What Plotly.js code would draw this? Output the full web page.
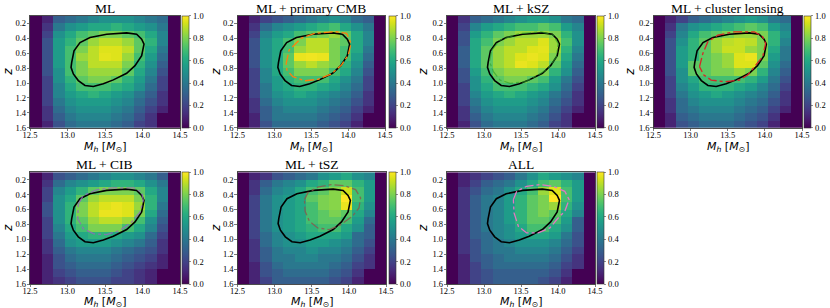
<!DOCTYPE html>
<html><head><meta charset="utf-8">
<script src="https://cdn.plot.ly/plotly-3.0.1.min.js"></script>
<style>html,body{margin:0;padding:0;background:#fff}#plot{width:830px;height:308px}</style>
</head><body><div id="plot"></div>
<script>
// ---- bin edges ----
const massEdges = [12.5,12.654,12.808,12.962,13.115,13.269,13.423,13.577,13.731,13.885,14.038,14.192,14.346,14.5];
const zEdges = [0.1,0.2,0.3,0.4,0.5,0.6,0.7,0.8,0.9,1.0,1.1,1.2,1.3,1.4,1.5,1.6];
const massTicks = [12.5,13.0,13.5,14.0,14.5];
const massTickText = ["12.5","13.0","13.5","14.0","14.5"];
const zTicks = [0.2,0.4,0.6,0.8,1.0,1.2,1.4,1.6];
const zTickText = ["0.2","0.4","0.6","0.8","1.0","1.2","1.4","1.6"];
const cbTicks = [0,0.2,0.4,0.6,0.8,1.0];
const cbTickText = ["0.0","0.2","0.4","0.6","0.8","1.0"];

// ---- panel titles ----
const panelTitles = ["ML","ML + primary CMB","ML + kSZ","ML + cluster lensing","ML + CIB","ML + tSZ","ALL"];
const xTitle = '<i>M</i><sub><i>h</i></sub> [<i>M</i><sub>⊙</sub>]';
const yTitle = '<i>z</i>';

// ---- heatmap values (rows: z from 0.1 downwards, cols: mass bins) ----
const zML = [
[0,0.10,0.30,0.35,0.40,0.45,0.50,0.50,0.50,0.45,0.40,0.35,0],
[0,0.15,0.40,0.50,0.55,0.60,0.60,0.65,0.60,0.55,0.50,0.40,0],
[0,0.20,0.50,0.60,0.70,0.75,0.80,0.80,0.75,0.70,0.60,0.45,0],
[0,0.25,0.55,0.65,0.75,0.85,0.90,0.90,0.85,0.75,0.65,0.45,0],
[0,0.25,0.55,0.70,0.80,0.90,0.95,0.95,0.90,0.75,0.60,0.40,0],
[0,0.25,0.55,0.70,0.85,0.90,0.96,0.95,0.85,0.70,0.55,0.35,0],
[0,0.25,0.55,0.70,0.80,0.90,0.90,0.90,0.80,0.65,0.50,0.30,0],
[0,0.25,0.50,0.70,0.80,0.85,0.85,0.85,0.75,0.60,0.45,0.25,0],
[0,0.20,0.50,0.65,0.75,0.80,0.80,0.75,0.65,0.55,0.40,0.20,0],
[0,0.20,0.45,0.60,0.70,0.70,0.70,0.65,0.60,0.50,0.35,0.20,0],
[0,0.20,0.45,0.55,0.60,0.65,0.60,0.55,0.50,0.40,0.30,0.15,0],
[0,0.20,0.40,0.50,0.55,0.55,0.55,0.50,0.45,0.35,0.25,0.15,0],
[0,0.15,0.35,0.45,0.50,0.50,0.50,0.45,0.40,0.30,0.20,0.10,0],
[0,0.15,0.30,0.40,0.45,0.45,0.45,0.40,0.35,0.25,0.15,0,0],
[0,0.10,0.25,0.35,0.40,0.40,0.40,0.35,0.30,0.20,0.15,0,0]];
const zCMB = [
[0,0.10,0.20,0.25,0.30,0.35,0.40,0.45,0.50,0.45,0.35,0.30,0],
[0,0.15,0.35,0.45,0.50,0.55,0.60,0.65,0.70,0.60,0.50,0.40,0],
[0,0.20,0.45,0.55,0.60,0.70,0.75,0.80,0.85,0.75,0.60,0.45,0],
[0,0.25,0.50,0.60,0.70,0.80,0.90,0.90,0.80,0.75,0.60,0.45,0],
[0,0.25,0.50,0.60,0.70,0.85,0.90,0.90,0.80,0.70,0.60,0.40,0],
[0,0.25,0.50,0.60,0.75,0.97,0.98,0.97,0.80,0.70,0.55,0.35,0],
[0,0.25,0.50,0.60,0.75,0.85,0.90,0.85,0.80,0.65,0.50,0.30,0],
[0,0.20,0.45,0.60,0.70,0.80,0.80,0.80,0.70,0.60,0.45,0.25,0],
[0,0.20,0.45,0.55,0.65,0.70,0.70,0.70,0.60,0.50,0.40,0.20,0],
[0,0.20,0.40,0.55,0.60,0.65,0.65,0.60,0.55,0.45,0.35,0.20,0],
[0,0.20,0.40,0.50,0.55,0.60,0.55,0.50,0.45,0.40,0.30,0.15,0],
[0,0.15,0.35,0.45,0.50,0.50,0.50,0.45,0.40,0.35,0.25,0.15,0],
[0,0.15,0.30,0.40,0.45,0.45,0.45,0.40,0.35,0.30,0.20,0.10,0],
[0,0.10,0.30,0.40,0.40,0.40,0.40,0.35,0.30,0.25,0.15,0,0],
[0,0.10,0.25,0.35,0.35,0.35,0.35,0.30,0.25,0.20,0.10,0,0]];
const zKSZ = [
[0,0.15,0.30,0.35,0.40,0.45,0.50,0.55,0.55,0.50,0.40,0.35,0],
[0,0.20,0.45,0.55,0.60,0.65,0.70,0.70,0.75,0.70,0.55,0.45,0],
[0,0.25,0.55,0.65,0.75,0.80,0.85,0.85,0.85,0.80,0.65,0.50,0],
[0,0.25,0.60,0.70,0.80,0.85,0.90,0.90,0.95,0.85,0.70,0.50,0],
[0,0.30,0.60,0.75,0.85,0.90,0.90,0.95,0.96,0.85,0.65,0.45,0],
[0,0.30,0.60,0.75,0.85,0.90,0.95,0.97,0.95,0.80,0.60,0.40,0],
[0,0.30,0.60,0.75,0.85,0.90,0.97,0.95,0.90,0.75,0.55,0.35,0],
[0,0.25,0.55,0.70,0.80,0.85,0.85,0.85,0.80,0.65,0.50,0.30,0],
[0,0.25,0.50,0.65,0.75,0.80,0.80,0.75,0.70,0.55,0.40,0.25,0],
[0,0.20,0.50,0.60,0.70,0.70,0.70,0.65,0.60,0.50,0.35,0.20,0],
[0,0.20,0.45,0.55,0.60,0.65,0.60,0.55,0.50,0.40,0.30,0.15,0],
[0,0.20,0.40,0.50,0.55,0.55,0.55,0.50,0.45,0.35,0.25,0.15,0],
[0,0.15,0.35,0.45,0.50,0.50,0.50,0.45,0.40,0.30,0.20,0.10,0],
[0,0.15,0.30,0.40,0.45,0.45,0.45,0.40,0.35,0.25,0.15,0,0],
[0,0.10,0.25,0.35,0.40,0.40,0.40,0.35,0.30,0.20,0.15,0,0]];
const zLens = [
[0,0.10,0.20,0.30,0.35,0.40,0.45,0.50,0.55,0.50,0.40,0.35,0],
[0,0.15,0.40,0.50,0.55,0.60,0.65,0.70,0.75,0.70,0.55,0.45,0],
[0,0.20,0.45,0.60,0.70,0.75,0.80,0.85,0.85,0.80,0.65,0.50,0],
[0,0.25,0.50,0.65,0.75,0.85,0.90,0.92,0.90,0.80,0.65,0.45,0],
[0,0.25,0.55,0.65,0.75,0.85,0.92,0.92,0.85,0.80,0.60,0.40,0],
[0,0.25,0.55,0.65,0.75,0.80,0.85,0.95,0.97,0.80,0.55,0.40,0],
[0,0.25,0.55,0.75,0.75,0.80,0.85,0.95,0.95,0.75,0.50,0.35,0],
[0,0.25,0.50,0.75,0.75,0.80,0.80,0.85,0.80,0.65,0.45,0.30,0],
[0,0.20,0.50,0.60,0.70,0.70,0.70,0.70,0.65,0.55,0.40,0.25,0],
[0,0.20,0.45,0.55,0.65,0.65,0.65,0.60,0.55,0.45,0.35,0.20,0],
[0,0.20,0.40,0.50,0.55,0.60,0.55,0.50,0.45,0.40,0.30,0.15,0],
[0,0.15,0.35,0.45,0.50,0.50,0.50,0.45,0.40,0.35,0.25,0.15,0],
[0,0.15,0.35,0.40,0.45,0.45,0.45,0.40,0.35,0.30,0.20,0.10,0],
[0,0.10,0.30,0.35,0.40,0.40,0.40,0.35,0.30,0.25,0.15,0,0],
[0,0.10,0.25,0.30,0.35,0.35,0.35,0.30,0.25,0.20,0.10,0,0]];
const zCIB = [
[0,0.10,0.25,0.30,0.35,0.40,0.45,0.50,0.50,0.45,0.40,0.30,0],
[0,0.15,0.35,0.45,0.50,0.55,0.60,0.65,0.65,0.60,0.50,0.40,0],
[0,0.20,0.45,0.55,0.65,0.75,0.80,0.80,0.80,0.75,0.60,0.45,0],
[0,0.20,0.50,0.60,0.75,0.85,0.90,0.90,0.90,0.80,0.65,0.45,0],
[0,0.25,0.50,0.65,0.80,0.90,0.95,0.97,0.95,0.85,0.65,0.40,0],
[0,0.25,0.50,0.65,0.80,0.90,0.97,0.97,0.95,0.80,0.60,0.35,0],
[0,0.20,0.50,0.65,0.75,0.85,0.90,0.90,0.85,0.70,0.50,0.30,0],
[0,0.20,0.45,0.60,0.70,0.80,0.80,0.80,0.70,0.60,0.45,0.25,0],
[0,0.20,0.40,0.55,0.60,0.65,0.65,0.60,0.55,0.50,0.35,0.20,0],
[0,0.15,0.35,0.50,0.55,0.55,0.55,0.50,0.45,0.40,0.30,0.15,0],
[0,0.15,0.30,0.40,0.45,0.45,0.45,0.40,0.35,0.30,0.25,0.15,0],
[0,0.10,0.25,0.35,0.40,0.40,0.40,0.35,0.30,0.25,0.20,0.10,0],
[0,0.10,0.25,0.30,0.35,0.35,0.35,0.30,0.25,0.20,0.15,0.10,0],
[0,0.10,0.20,0.25,0.30,0.30,0.30,0.25,0.20,0.15,0.10,0,0],
[0,0.10,0.15,0.20,0.25,0.25,0.25,0.20,0.20,0.15,0.10,0,0]];
const zTSZ = [
[0,0.10,0.15,0.25,0.30,0.35,0.40,0.50,0.55,0.60,0.50,0.45,0],
[0,0.15,0.30,0.40,0.45,0.50,0.60,0.65,0.75,0.75,0.65,0.55,0],
[0,0.15,0.35,0.45,0.50,0.60,0.70,0.75,0.82,0.93,0.70,0.55,0],
[0,0.20,0.40,0.50,0.55,0.60,0.75,0.80,0.82,1.00,0.70,0.55,0],
[0,0.20,0.40,0.50,0.55,0.60,0.70,0.80,0.82,0.97,0.65,0.50,0],
[0,0.20,0.40,0.50,0.55,0.60,0.70,0.75,0.80,0.75,0.60,0.45,0],
[0,0.20,0.40,0.50,0.55,0.60,0.70,0.75,0.75,0.70,0.55,0.35,0],
[0,0.20,0.40,0.50,0.55,0.60,0.65,0.70,0.70,0.60,0.50,0.30,0],
[0,0.20,0.35,0.45,0.50,0.55,0.60,0.60,0.60,0.55,0.35,0.30,0],
[0,0.15,0.35,0.45,0.50,0.50,0.55,0.55,0.50,0.45,0.35,0.25,0],
[0,0.15,0.30,0.40,0.45,0.45,0.50,0.45,0.45,0.40,0.30,0.20,0],
[0,0.15,0.30,0.40,0.40,0.45,0.45,0.40,0.40,0.35,0.25,0.15,0],
[0,0.10,0.25,0.35,0.40,0.40,0.40,0.40,0.35,0.30,0.20,0.15,0],
[0,0.10,0.25,0.30,0.35,0.35,0.35,0.35,0.30,0.25,0.15,0,0],
[0,0.10,0.20,0.30,0.30,0.30,0.30,0.30,0.25,0.20,0.10,0,0]];
const zALL = [
[0,0.10,0.15,0.20,0.25,0.30,0.40,0.50,0.60,0.55,0.50,0.45,0],
[0,0.10,0.20,0.30,0.35,0.40,0.50,0.60,0.70,0.75,0.65,0.55,0],
[0,0.15,0.25,0.35,0.40,0.50,0.60,0.70,0.85,0.95,0.70,0.55,0],
[0,0.15,0.30,0.40,0.45,0.55,0.65,0.75,0.80,1.00,0.70,0.55,0],
[0,0.15,0.30,0.40,0.45,0.55,0.65,0.75,0.80,0.85,0.65,0.50,0],
[0,0.15,0.30,0.40,0.45,0.55,0.65,0.75,0.80,0.75,0.60,0.45,0],
[0,0.15,0.30,0.40,0.45,0.55,0.65,0.75,0.75,0.70,0.55,0.30,0],
[0,0.15,0.30,0.40,0.45,0.50,0.60,0.70,0.70,0.60,0.50,0.30,0],
[0,0.15,0.30,0.35,0.45,0.50,0.55,0.60,0.60,0.55,0.40,0.25,0],
[0,0.15,0.25,0.35,0.40,0.45,0.50,0.50,0.50,0.45,0.35,0.25,0],
[0,0.15,0.25,0.35,0.40,0.40,0.45,0.45,0.45,0.40,0.30,0.20,0],
[0,0.10,0.25,0.30,0.35,0.40,0.40,0.40,0.40,0.35,0.25,0.15,0],
[0,0.10,0.20,0.30,0.35,0.35,0.35,0.35,0.35,0.30,0.20,0.15,0],
[0,0.10,0.20,0.25,0.30,0.30,0.30,0.30,0.30,0.25,0.15,0,0],
[0,0.10,0.20,0.25,0.30,0.30,0.30,0.30,0.25,0.20,0.10,0,0]];

// ---- contours ----
const mlContourM = [13.056,13.087,13.167,13.30,13.522,13.789,13.922,13.989,14.02,13.989,13.90,13.789,13.611,13.478,13.344,13.233,13.144,13.078,13.047,13.056];
const mlContourZ = [0.722,0.567,0.456,0.389,0.344,0.327,0.344,0.411,0.478,0.633,0.767,0.869,0.958,1.011,1.047,1.033,0.967,0.878,0.789,0.722];
const cmbContourM = [13.16,13.20,13.36,13.545,13.82,13.98,14.04,14.00,13.91,13.77,13.59,13.41,13.25,13.17,13.16];
const cmbContourZ = [0.737,0.558,0.40,0.334,0.31,0.334,0.468,0.625,0.76,0.88,0.95,0.97,0.915,0.826,0.737];
const kszContourM = [13.105,13.217,13.487,13.778,13.935,14.002,13.98,13.868,13.733,13.554,13.352,13.217,13.128,13.074,13.105];
const kszContourZ = [0.558,0.424,0.334,0.312,0.357,0.468,0.647,0.804,0.893,0.983,1.005,0.96,0.848,0.714,0.558];
const lensContourM = [13.12,13.165,13.232,13.366,13.59,13.857,13.97,14.01,13.97,13.857,13.768,13.656,13.455,13.277,13.178,13.12];
const lensContourZ = [0.781,0.602,0.446,0.357,0.312,0.312,0.379,0.468,0.647,0.781,0.893,0.96,0.983,0.96,0.893,0.781];
const cibContourM = [13.144,13.211,13.389,13.611,13.878,13.989,14.011,13.967,13.856,13.70,13.522,13.344,13.211,13.136,13.144];
const cibContourZ = [0.524,0.412,0.336,0.309,0.309,0.367,0.479,0.635,0.769,0.88,0.938,0.925,0.858,0.724,0.524];
const tszContourM = [13.402,13.447,13.58,13.758,13.936,14.091,14.158,14.136,14.047,13.891,13.736,13.58,13.469,13.411,13.402];
const tszContourZ = [0.468,0.379,0.30,0.267,0.281,0.334,0.446,0.58,0.692,0.804,0.871,0.848,0.76,0.625,0.468];
const allContourM = [13.397,13.442,13.576,13.756,13.935,14.092,14.15,14.092,14.002,13.89,13.733,13.576,13.464,13.406,13.397];
const allContourZ = [0.468,0.356,0.289,0.267,0.289,0.356,0.468,0.624,0.714,0.848,0.915,0.915,0.826,0.647,0.468];

const panelZ = [zML,zCMB,zKSZ,zLens,zCIB,zTSZ,zALL];
const panelContours = [null,[cmbContourM,cmbContourZ],[kszContourM,kszContourZ],[lensContourM,lensContourZ],[cibContourM,cibContourZ],[tszContourM,tszContourZ],[allContourM,allContourZ]];
const contourColors = [null,"#ff7f0e","rgba(44,160,44,0.6)","#d62728","rgba(148,103,189,0.8)","rgba(140,86,75,0.8)","#e377c2"];

// ---- layout geometry (pixels) ----
const W=830,H=308;
const boxes = [
 {l:30,r:180,t:16,b:127.7,cb:182,yl:8,xt:146.5},
 {l:237.5,r:385,t:16,b:127.7,cb:389,yl:216,xt:146.5},
 {l:447,r:595,t:16,b:127.7,cb:597,yl:423,xt:146.5},
 {l:653.5,r:802,t:16,b:127.7,cb:804,yl:630,xt:146.5},
 {l:30,r:180,t:172.2,b:284,cb:182,yl:8,xt:301.5},
 {l:237.5,r:386,t:172.2,b:284,cb:389,yl:216,xt:301.5},
 {l:447,r:595,t:172.2,b:284,cb:597,yl:423,xt:301.5}
];

const tickFont = {family:"Liberation Serif, DejaVu Serif, serif", size:8.5, color:"#000"};
const traces=[]; const layout={width:W,height:H,margin:{l:0,r:0,t:0,b:0},paper_bgcolor:"#fff",plot_bgcolor:"#fff",showlegend:false,annotations:[]};

boxes.forEach((b,i)=>{
  const n=i+1, xa='x'+(n===1?'':n), ya='y'+(n===1?'':n);
  const xd=[b.l/W,b.r/W], yd=[1-b.b/H,1-b.t/H];
  traces.push({type:'heatmap',x:massEdges,y:zEdges,z:panelZ[i],colorscale:'Viridis',zmin:0,zmax:1,zsmooth:false,
    xaxis:xa,yaxis:ya,
    colorbar:{x:b.cb/W,xanchor:'left',xref:'paper',y:(yd[0]+yd[1])/2,yanchor:'middle',len:yd[1]-yd[0],lenmode:'fraction',
      thickness:7,outlinewidth:0.6,outlinecolor:'#333',tickvals:cbTicks,ticktext:cbTickText,ticks:'outside',ticklen:2.5,tickwidth:0.6,
      tickfont:tickFont,xpad:0,ypad:0}});
  traces.push({type:'scatter',mode:'lines',x:mlContourM,y:mlContourZ,xaxis:xa,yaxis:ya,line:{color:'#000',width:1.6},hoverinfo:'skip'});
  if(panelContours[i]){
    traces.push({type:'scatter',mode:'lines',x:panelContours[i][0],y:panelContours[i][1],xaxis:xa,yaxis:ya,
      line:{color:contourColors[i],width:1.3,dash:'dashdot'},hoverinfo:'skip'});
  }
  const xk='xaxis'+(n===1?'':n), yk='yaxis'+(n===1?'':n);
  layout[xk]={domain:xd,anchor:ya,range:[12.5,14.5],tickvals:massTicks,ticktext:massTickText,ticks:'outside',ticklen:2.5,tickwidth:0.7,
    ticklabelstandoff:-3,
    showgrid:false,zeroline:false,showline:true,linewidth:0.7,linecolor:'#000',mirror:true,tickfont:tickFont};
  layout[yk]={domain:yd,anchor:xa,range:[1.6,0.1],tickvals:zTicks,ticktext:zTickText,ticks:'outside',ticklen:2.5,tickwidth:0.7,
    ticklabelstandoff:-1,
    showgrid:false,zeroline:false,showline:true,linewidth:0.7,linecolor:'#000',mirror:true,tickfont:tickFont};
  layout.annotations.push({xref:'paper',yref:'paper',x:(xd[0]+xd[1])/2,y:yd[1],xanchor:'center',yanchor:'bottom',yshift:-2,
    text:panelTitles[i],showarrow:false,font:{family:'Liberation Serif, Times New Roman, serif',size:13.5,color:'#000'}});
  layout.annotations.push({xref:'paper',yref:'paper',x:(xd[0]+xd[1])/2,y:1-b.xt/H,xanchor:'center',yanchor:'middle',
    text:xTitle,showarrow:false,font:{family:'DejaVu Sans',size:11,color:'#000'}});
  layout.annotations.push({xref:'paper',yref:'paper',x:b.yl/W,y:(yd[0]+yd[1])/2,xanchor:'center',yanchor:'middle',textangle:-90,
    text:yTitle,showarrow:false,font:{family:'DejaVu Sans',size:12,color:'#000'}});
});

Plotly.newPlot('plot',traces,layout,{staticPlot:true,displayModeBar:false});
</script></body></html>
